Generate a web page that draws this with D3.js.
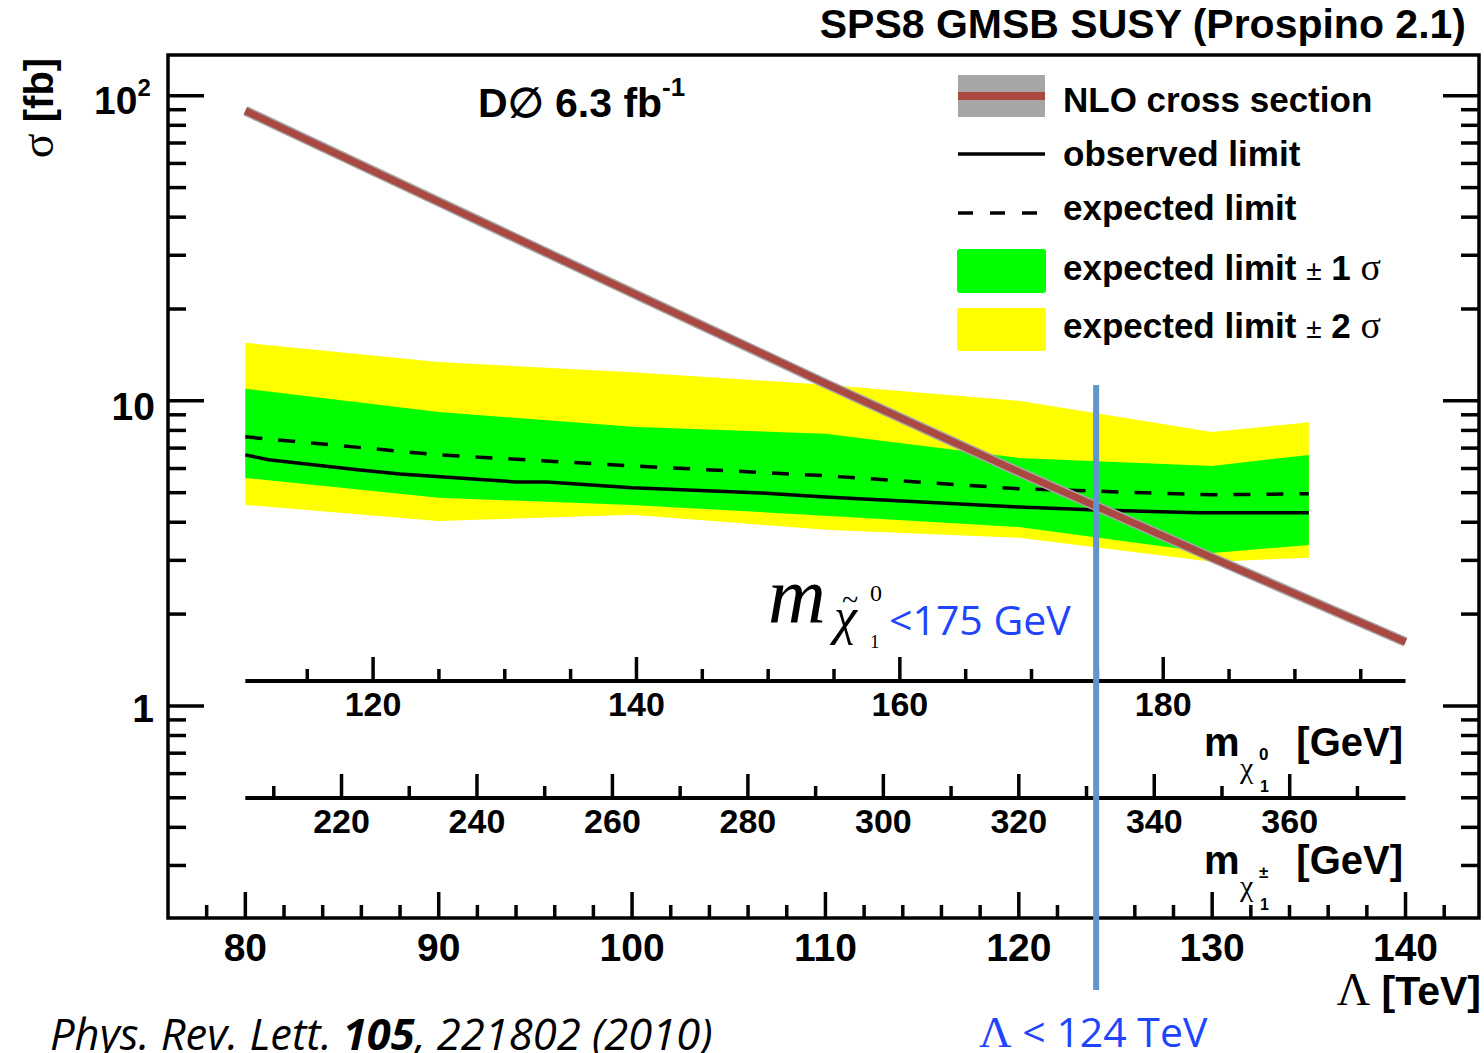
<!DOCTYPE html>
<html>
<head>
<meta charset="utf-8">
<script src="https://cdn.jsdelivr.net/npm/d3@7"></script>
<style>
  body { margin: 0; background: #fff; }
  text { font-family: "Liberation Sans", Arial, sans-serif; font-weight: bold; }
  .serif { font-family: "Liberation Serif", "Times New Roman", serif; font-weight: normal; }
  .calib { font-family: "Open Sans", sans-serif; font-weight: normal; }
</style>
</head>
<body>
<div id="chart"></div>
<script>
// values (Lambda in TeV, sigma in fb)
const bandLambda = [80, 90, 100, 110, 120, 130, 135]
const expected  = [7.62, 6.65, 6.12, 5.68, 5.15, 4.92, 4.96]
const plus1     = [10.95, 9.2, 8.22, 7.8, 6.5, 6.12, 6.65]
const minus1    = [5.59, 4.81, 4.56, 4.20, 3.86, 3.17, 3.37]
const plus2     = [15.5, 13.4, 12.4, 11.3, 10.0, 7.9, 8.5]
const minus2    = [4.56, 4.04, 4.23, 3.78, 3.56, 2.97, 3.06]

const obsLambda = [80, 81.2, 85.8, 88, 94, 95.6, 100, 106.7, 110, 120, 124, 129.3, 135]
const observed  = [6.65, 6.41, 5.94, 5.76, 5.42, 5.42, 5.19, 4.99, 4.84, 4.49, 4.39, 4.30, 4.30]

const nloLambda = [80, 90, 100, 110, 120, 130, 140]
const nloXsec   = [89.3, 44.9, 22.6, 11.4, 5.85, 3.06, 1.62]

const lambdaTicks = [80, 90, 100, 110, 120, 130, 140]
const chi0Ticks = [120, 140, 160, 180]
const chiPmTicks = [220, 240, 260, 280, 300, 320, 340, 360]
// neutralino / chargino mass at Lambda = 80 and 140 TeV
const chi0Mass = [110.3, 198.4]
const chiPmMass = [205.8, 377.1]
const lambdaLimit = 124

const W = 1484, H = 1053
const frame = { left: 168, right: 1479, top: 55, bottom: 918 }

const svg = d3.select("#chart").append("svg")
  .attr("width", W).attr("height", H)

const x = d3.scaleLinear().domain([76, 143.8]).range([frame.left, frame.right])
const y = d3.scaleLog().domain([0.2018, 136]).range([frame.bottom, frame.top])

const xc0 = d3.scaleLinear().domain(chi0Mass).range([x(80), x(140)])
const xcp = d3.scaleLinear().domain(chiPmMass).range([x(80), x(140)])

const band = (lo, hi) => d3.area()
  .x((d, i) => x(bandLambda[i]))
  .y0((d, i) => y(lo[i]))
  .y1((d, i) => y(hi[i]))(bandLambda)

// bands
svg.append("path").attr("d", band(minus2, plus2)).attr("fill", "#ffff00")
svg.append("path").attr("d", band(minus1, plus1)).attr("fill", "#00ff00")

// expected
svg.append("path")
  .attr("d", d3.line().x((d, i) => x(bandLambda[i])).y(d => y(d))(expected))
  .attr("fill", "none").attr("stroke", "#000").attr("stroke-width", 3.5)
  .attr("stroke-dasharray", "17,16")

// observed
svg.append("path")
  .attr("d", d3.line().x((d, i) => x(obsLambda[i])).y(d => y(d))(observed))
  .attr("fill", "none").attr("stroke", "#000").attr("stroke-width", 3.5)

// NLO cross section
const nloLine = d3.line().x((d, i) => x(nloLambda[i])).y(d => y(d))(nloXsec)
svg.append("path").attr("d", nloLine)
  .attr("fill", "none").attr("stroke", "#a6a6a6").attr("stroke-width", 10)
svg.append("path").attr("d", nloLine)
  .attr("fill", "none").attr("stroke", "#aa4842").attr("stroke-width", 7)

// frame
svg.append("rect")
  .attr("x", frame.left).attr("y", frame.top)
  .attr("width", frame.right - frame.left).attr("height", frame.bottom - frame.top)
  .attr("fill", "none").attr("stroke", "#000").attr("stroke-width", 3.5)

// y ticks, both sides
const yTicks = y.ticks().filter(v => v >= 0.2 && v <= 136)
yTicks.forEach(v => {
  const major = Math.abs(Math.log10(v) - Math.round(Math.log10(v))) < 1e-6
  const len = major ? 36 : 18
  svg.append("line").attr("x1", frame.left).attr("x2", frame.left + len)
    .attr("y1", y(v)).attr("y2", y(v)).attr("stroke", "#000").attr("stroke-width", 3.5)
  svg.append("line").attr("x1", frame.right).attr("x2", frame.right - len)
    .attr("y1", y(v)).attr("y2", y(v)).attr("stroke", "#000").attr("stroke-width", 3.5)
})

// y labels
const yl = svg.append("g").attr("font-size", 39)
yl.append("text").attr("x", 155).attr("y", 420).attr("text-anchor", "end").text("10")
yl.append("text").attr("x", 154).attr("y", 722).attr("text-anchor", "end").text("1")
const y100 = yl.append("text").attr("x", 94).attr("y", 114)
y100.append("tspan").text("10")
y100.append("tspan").attr("font-size", 24).attr("dy", -18).text("2")

svg.append("text").attr("transform", "translate(53,108) rotate(-90)")
  .attr("text-anchor", "middle").attr("font-size", 40)
  .call(t => {
    t.append("tspan").attr("class", "serif").attr("font-size", 46).text("σ")
    t.append("tspan").text(" [fb]")
  })

// x ticks (Lambda)
d3.range(78, 143, 2).forEach(v => {
  const major = v % 10 === 0
  svg.append("line").attr("x1", x(v)).attr("x2", x(v))
    .attr("y1", frame.bottom).attr("y2", frame.bottom - (major ? 26 : 13))
    .attr("stroke", "#000").attr("stroke-width", 3.5)
})
svg.append("g").attr("font-size", 39).selectAll("text").data(lambdaTicks).join("text")
  .attr("x", d => x(d)).attr("y", 961).attr("text-anchor", "middle").text(d => d)

svg.append("text").attr("x", 1481).attr("y", 1005).attr("text-anchor", "end").attr("font-size", 41)
  .call(t => {
    t.append("tspan").attr("class", "serif").attr("font-size", 46).text("Λ")
    t.append("tspan").text(" [TeV]")
  })

// secondary mass axes
function massAxis(scale, yPos, majorStep, minorStep, labels, labY) {
  const g = svg.append("g")
  g.append("line").attr("x1", x(80)).attr("x2", x(140)).attr("y1", yPos).attr("y2", yPos)
    .attr("stroke", "#000").attr("stroke-width", 4)
  const d = scale.domain()
  d3.range(Math.ceil(d[0] / minorStep) * minorStep, d[1], minorStep).forEach(v => {
    const major = v % majorStep === 0
    g.append("line").attr("x1", scale(v)).attr("x2", scale(v))
      .attr("y1", yPos).attr("y2", yPos - (major ? 24 : 12))
      .attr("stroke", "#000").attr("stroke-width", 3.5)
  })
  g.append("g").attr("font-size", 34).selectAll("text").data(labels).join("text")
    .attr("x", v => scale(v)).attr("y", labY).attr("text-anchor", "middle").text(v => v)
}
massAxis(xc0, 681, 20, 5, chi0Ticks, 716)
massAxis(xcp, 798, 20, 10, chiPmTicks, 833)

function massLabel(yBase, sup) {
  const g = svg.append("g").attr("font-size", 40)
  g.append("text").attr("x", 1403).attr("y", yBase).attr("text-anchor", "end").text("[GeV]")
  g.append("text").attr("x", 1204).attr("y", yBase).text("m")
  g.append("text").attr("class", "serif").attr("x", 1240).attr("y", yBase + 22).attr("font-size", 30).text("χ")
  g.append("text").attr("x", 1260).attr("y", yBase + 36).attr("font-size", 16).text("1")
  g.append("text").attr("x", 1259).attr("y", yBase + 4).attr("font-size", 17).text(sup)
}
massLabel(756, "0")
massLabel(874, "±")

// legend
const lg = svg.append("g")
lg.append("rect").attr("x", 958).attr("y", 75).attr("width", 87).attr("height", 42).attr("fill", "#a6a6a6")
lg.append("rect").attr("x", 958).attr("y", 92).attr("width", 87).attr("height", 8).attr("fill", "#aa4842")
lg.append("line").attr("x1", 958).attr("x2", 1045).attr("y1", 154).attr("y2", 154)
  .attr("stroke", "#000").attr("stroke-width", 3.5)
lg.append("line").attr("x1", 958).attr("x2", 1045).attr("y1", 213).attr("y2", 213)
  .attr("stroke", "#000").attr("stroke-width", 3.5).attr("stroke-dasharray", "15,17")
lg.append("rect").attr("x", 957).attr("y", 249).attr("width", 89).attr("height", 44).attr("rx", 3).attr("fill", "#00ff00")
lg.append("rect").attr("x", 957).attr("y", 308).attr("width", 89).attr("height", 43).attr("rx", 3).attr("fill", "#ffff00")

const legText = ["NLO cross section", "observed limit", "expected limit"]
const legY = [112, 166, 220]
legText.forEach((s, i) => lg.append("text").attr("x", 1063).attr("y", legY[i]).attr("font-size", 35).text(s))
;[["1", 280], ["2", 338]].forEach(([n, yy]) => {
  const t = lg.append("text").attr("x", 1063).attr("y", yy).attr("font-size", 35)
  t.append("tspan").text("expected limit ")
  t.append("tspan").attr("font-weight", "normal").attr("font-size", 28).text("±")
  t.append("tspan").text(" " + n + " ")
  t.append("tspan").attr("class", "serif").attr("font-size", 38).text("σ")
})

// titles
svg.append("text").attr("x", 1466).attr("y", 38).attr("text-anchor", "end").attr("font-size", 41)
  .text("SPS8 GMSB SUSY (Prospino 2.1)")
svg.append("text").attr("x", 478).attr("y", 117).attr("font-size", 41)
  .call(t => {
    t.append("tspan").text("D∅ 6.3 fb")
    t.append("tspan").attr("font-size", 26).attr("dy", -21).text("-1")
  })

// neutralino mass annotation
const an = svg.append("g")
an.append("text").attr("class", "serif").attr("font-style", "italic").attr("x", 768).attr("y", 622).attr("font-size", 80).text("m")
an.append("text").attr("class", "serif").attr("font-style", "italic").attr("x", 834).attr("y", 634).attr("font-size", 52).text("χ")
an.append("text").attr("class", "serif").attr("x", 842).attr("y", 610).attr("font-size", 30).text("~")
an.append("text").attr("class", "serif").attr("x", 870).attr("y", 601).attr("font-size", 24).text("0")
an.append("text").attr("class", "serif").attr("x", 870).attr("y", 648).attr("font-size", 19).text("1")
an.append("text").attr("class", "calib").attr("x", 889).attr("y", 635).attr("font-size", 41).attr("fill", "#1f45fc").text("<175 GeV")

// limit line
svg.append("line").attr("x1", x(lambdaLimit)).attr("x2", x(lambdaLimit))
  .attr("y1", 385).attr("y2", 990).attr("stroke", "#6096cc").attr("stroke-width", 6)
svg.append("text").attr("class", "calib").attr("x", 979).attr("y", 1047).attr("font-size", 41).attr("fill", "#1f45fc")
  .call(t => {
    t.append("tspan").attr("class", "serif").attr("font-size", 45).text("Λ")
    t.append("tspan").text(" < 124 TeV")
  })

// reference
svg.append("text").attr("class", "calib").attr("font-style", "italic").attr("x", 50).attr("y", 1050).attr("font-size", 43.5)
  .call(t => {
    t.append("tspan").text("Phys. Rev. Lett. ")
    t.append("tspan").attr("font-weight", "bold").text("105")
    t.append("tspan").text(", 221802 (2010)")
  })
</script>
</body>
</html>
